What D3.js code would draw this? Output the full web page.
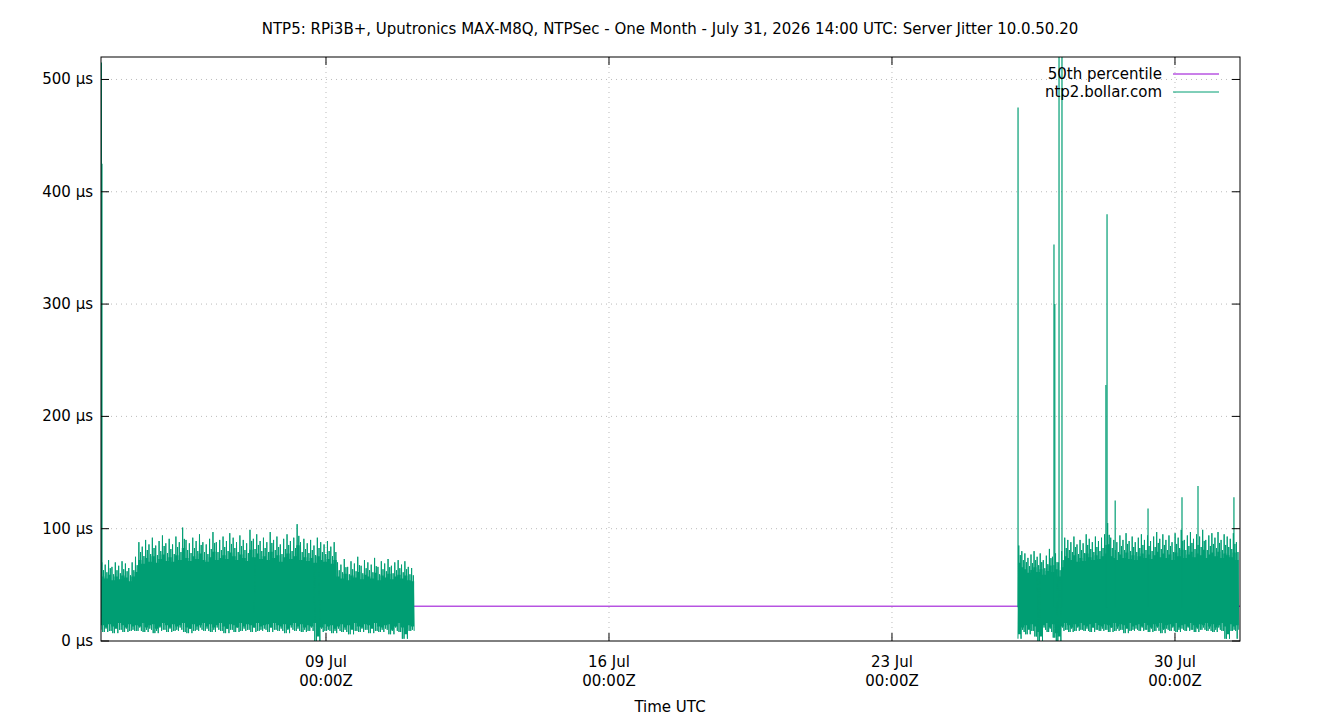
<!DOCTYPE html>
<html><head><meta charset="utf-8">
<script src="https://cdn.jsdelivr.net/npm/d3@7"></script>
<style>body{margin:0;background:#fff;font-family:"DejaVu Sans",sans-serif;}</style>
</head><body><div id="chart"></div>
<script>
var W = 1340, H = 720;
var margin = {top: 57, left: 101, right: 100, bottom: 79};

var parse = d3.utcParse("%Y-%m-%d %H:%M");
var domainStart = "2026-07-03 10:26", domainEnd = "2026-07-31 14:36";
var median = 31;

// segment 1: hourly-ish envelope (upper / lower jitter in µs)
var seg1Start = "2026-07-03 10:26", seg1End = "2026-07-11 04:20";
var seg1Hi = [70,68,72,66,70,67,71,69,65,70,75,
  88,84,90,86,92,85,89,94,87,91,86,93,88,101,90,87,92,89,95,88,
  86,91,97,88,90,93,89,96,92,88,94,90,87,99,91,95,89,92,88,97,90,93,86,91,95,89,92,104,88,91,
  87,90,85,92,88,86,89,84,88,
  70,68,73,66,71,69,75,67,72,70,68,74,66,71,69,73,67,70,72,68,71,66,65];
var seg1Lo = [10,8,11,9,7,12,10,8,11,9,10,
  9,12,8,10,11,7,9,12,10,8,11,9,10,12,8,7,11,9,10,12,
  9,11,8,10,12,9,7,11,10,8,12,9,11,10,8,12,9,10,11,8,12,10,9,11,7,10,12,9,11,8,
  10,9,12,0,8,11,9,10,7,
  9,11,8,10,6,12,9,8,11,10,7,12,9,8,10,11,6,9,12,8,2,10,9];

// segment 2
var seg2Start = "2026-07-26 02:48", seg2End = "2026-07-31 13:50";
var seg2Hi = [85,80,78,74,77,80,75,78,72,76,
  82,75,78,70,80,92,90,88,93,86,
  90,87,95,91,88,93,89,92,95,105,
  92,90,88,94,90,96,89,93,88,92,
  95,90,94,89,93,97,91,95,90,94,
  88,96,92,99,90,94,97,91,95,93,
  99,90,94,96,92,97,90,95,93,91,
  96,88];
var seg2Lo = [2,8,10,6,11,9,4,0,10,12,
  8,11,3,0,9,12,10,8,11,9,
  12,10,9,11,8,12,10,9,11,10,
  8,12,9,11,10,7,12,9,10,11,
  9,12,10,8,11,9,12,7,10,11,
  9,12,8,10,11,9,12,10,8,11,
  10,12,9,11,8,10,12,9,2,11,
  9,10];

// isolated spikes [time, µs]
var spikeTimes = ["2026-07-03 10:40","2026-07-03 11:00","2026-07-26 02:50","2026-07-27 00:10","2026-07-27 00:40",
  "2026-07-27 03:10","2026-07-27 04:55","2026-07-28 07:00","2026-07-28 07:40","2026-07-28 12:30",
  "2026-07-29 08:00","2026-07-30 04:10","2026-07-30 13:40","2026-07-31 11:00"];
var spikeVals = [515,425,475,353,300,530,530,228,380,125,118,128,138,128];

var yTicks = [0,100,200,300,400,500];
var xTicks = ["2026-07-09 00:00","2026-07-16 00:00","2026-07-23 00:00","2026-07-30 00:00"];

var green = "#009e73", purple = "#9400d3";

var svg = d3.select("#chart").append("svg").attr("width", W).attr("height", H)
  .style("font-family", "'DejaVu Sans',sans-serif").style("font-size", "15px");

var pw = W - margin.left - margin.right, ph = H - margin.top - margin.bottom;
var x = d3.scaleUtc().domain([parse(domainStart), parse(domainEnd)]).range([margin.left, margin.left + pw]);
var y = d3.scaleLinear().domain([0, 520]).range([margin.top + ph, margin.top]);

svg.append("text").attr("x", W/2).attr("y", 34).attr("text-anchor", "middle")
  .text("NTP5: RPi3B+, Uputronics MAX-M8Q, NTPSec - One Month - July 31, 2026 14:00 UTC: Server Jitter 10.0.50.20");

// grid
svg.append("g").selectAll("line").data(yTicks.slice(1)).enter().append("line")
  .attr("x1", margin.left).attr("x2", margin.left + pw).attr("y1", d => y(d)).attr("y2", d => y(d))
  .attr("stroke", "#bbb").attr("stroke-dasharray", "1,4");
svg.append("g").selectAll("line").data(xTicks).enter().append("line")
  .attr("x1", d => x(parse(d))).attr("x2", d => x(parse(d))).attr("y1", margin.top).attr("y2", margin.top + ph)
  .attr("stroke", "#bbb").attr("stroke-dasharray", "1,4");

svg.append("clipPath").attr("id", "clip").append("rect")
  .attr("x", margin.left).attr("y", margin.top).attr("width", pw).attr("height", ph);
var plot = svg.append("g").attr("clip-path", "url(#clip)");

// median line
plot.append("line").attr("x1", margin.left).attr("x2", margin.left + pw)
  .attr("y1", y(median)).attr("y2", y(median)).attr("stroke", purple).attr("stroke-width", 1);

function drawSeg(s, e, hi, lo) {
  var t0 = parse(s).getTime(), t1 = parse(e).getTime(), n = hi.length, dt = (t1 - t0) / n;
  var pts = [];
  hi.forEach(function(h, i) {
    var t = t0 + i * dt;
    pts.push([t, lo[i]], [t + dt * 0.25, h], [t + dt * 0.5, lo[(i + 1) % n]], [t + dt * 0.75, h * 0.9], [t + dt, lo[i]]);
  });
  var area = d3.area().x(d => x(new Date(d.t))).y0(d => y(d.lo + 4)).y1(d => y(d.hi * 0.82))
    .curve(d3.curveStep);
  var ad = hi.map((h, i) => ({t: t0 + (i + 0.5) * dt, hi: h, lo: lo[i]}));
  ad.unshift({t: t0, hi: hi[0], lo: lo[0]}); ad.push({t: t1, hi: hi[n-1], lo: lo[n-1]});
  plot.append("path").attr("d", area(ad)).attr("fill", green);
  plot.append("path").attr("d", d3.line().x(d => x(new Date(d[0]))).y(d => y(d[1]))(pts))
    .attr("fill", "none").attr("stroke", green).attr("stroke-width", 1);
}
drawSeg(seg1Start, seg1End, seg1Hi, seg1Lo);
drawSeg(seg2Start, seg2End, seg2Hi, seg2Lo);

plot.selectAll(".spike").data(spikeTimes).enter().append("line")
  .attr("x1", d => x(parse(d))).attr("x2", d => x(parse(d)))
  .attr("y1", y(30)).attr("y2", (d, i) => y(spikeVals[i]))
  .attr("stroke", green).attr("stroke-width", 1.2);

// frame
svg.append("rect").attr("x", margin.left).attr("y", margin.top).attr("width", pw).attr("height", ph)
  .attr("fill", "none").attr("stroke", "#000");

// y axis ticks + mirror
yTicks.forEach(function(v) {
  svg.append("line").attr("x1", margin.left).attr("x2", margin.left + 8).attr("y1", y(v)).attr("y2", y(v)).attr("stroke", "#000");
  svg.append("line").attr("x1", margin.left + pw).attr("x2", margin.left + pw - 8).attr("y1", y(v)).attr("y2", y(v)).attr("stroke", "#000");
  svg.append("text").attr("x", margin.left - 8).attr("y", y(v) + 5).attr("text-anchor", "end").text(v + " µs");
});
xTicks.forEach(function(d) {
  var xx = x(parse(d));
  svg.append("line").attr("x1", xx).attr("x2", xx).attr("y1", margin.top + ph).attr("y2", margin.top + ph - 8).attr("stroke", "#000");
  svg.append("line").attr("x1", xx).attr("x2", xx).attr("y1", margin.top).attr("y2", margin.top + 8).attr("stroke", "#000");
  var t = svg.append("text").attr("x", xx).attr("y", 667).attr("text-anchor", "middle");
  t.append("tspan").attr("x", xx).text(d3.utcFormat("%d %b")(parse(d)));
  t.append("tspan").attr("x", xx).attr("dy", 19).text(d3.utcFormat("%H:%MZ")(parse(d)));
});
svg.append("text").attr("x", 670).attr("y", 712).attr("text-anchor", "middle").text("Time UTC");

// legend
var legend = [["50th percentile", purple], ["ntp2.bollar.com", green]];
legend.forEach(function(l, i) {
  var ly = 74 + i * 18;
  svg.append("text").attr("x", 1162).attr("y", ly + 5).attr("text-anchor", "end").text(l[0]);
  svg.append("line").attr("x1", 1173).attr("x2", 1219).attr("y1", ly).attr("y2", ly).attr("stroke", l[1]);
});
</script></body></html>
